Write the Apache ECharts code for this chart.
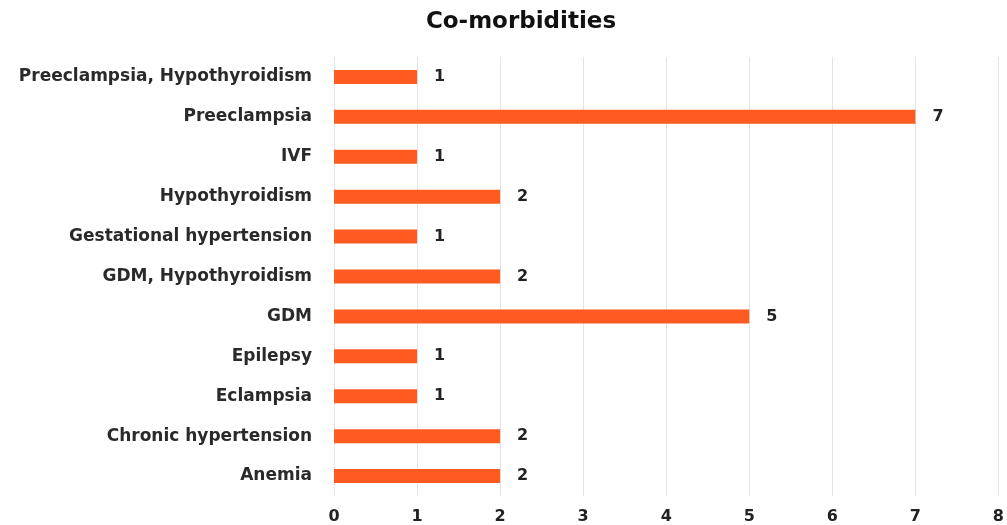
<!DOCTYPE html>
<html>
<head>
<meta charset="utf-8">
<script src="https://cdn.jsdelivr.net/npm/echarts@6/dist/echarts.min.js"></script>
<style>
  html, body { margin: 0; padding: 0; background: #fff; }
  #chart { width: 1007px; height: 525px; }
</style>
</head>
<body>
<div id="chart"></div>
<script>
var categories = ['Anemia', 'Chronic hypertension', 'Eclampsia', 'Epilepsy', 'GDM',
  'GDM, Hypothyroidism', 'Gestational hypertension', 'Hypothyroidism', 'IVF',
  'Preeclampsia', 'Preeclampsia, Hypothyroidism'];
var counts = [2, 2, 1, 1, 5, 2, 1, 2, 1, 7, 1];
var xTicks = [0, 1, 2, 3, 4, 5, 6, 7, 8];

var myChart = echarts.init(document.getElementById('chart'));
var font = 'DejaVu Sans';

var option = {
  animation: false,
  title: {
    text: 'Co-morbidities',
    left: 516,
    textAlign: 'center',
    top: 6,
    textStyle: { fontFamily: font, fontSize: 23, fontWeight: 'bold', color: '#111' }
  },
  grid: { left: 334, right: 5, top: 57, bottom: 29 },
  xAxis: {
    type: 'value',
    min: xTicks[0],
    max: xTicks[xTicks.length - 1],
    interval: 1,
    axisLine: { show: false },
    axisTick: { show: false },
    splitLine: { lineStyle: { color: '#e3e3e3', width: 1 } },
    axisLabel: { fontFamily: font, fontSize: 16, fontWeight: 'bold', color: '#222', margin: 13 }
  },
  yAxis: {
    type: 'category',
    data: categories,
    axisLine: { show: false },
    axisTick: { show: false },
    axisLabel: { fontFamily: font, fontSize: 17, fontWeight: 'bold', color: '#2a2a2a', margin: 22 }
  },
  series: [{
    type: 'bar',
    data: counts,
    barWidth: 14,
    itemStyle: { color: '#ff5a1f' },
    label: {
      show: true,
      position: 'right',
      distance: 17,
      fontFamily: font,
      fontSize: 16,
      fontWeight: 'bold',
      color: '#222'
    }
  }]
};

myChart.setOption(option);
</script>
</body>
</html>
